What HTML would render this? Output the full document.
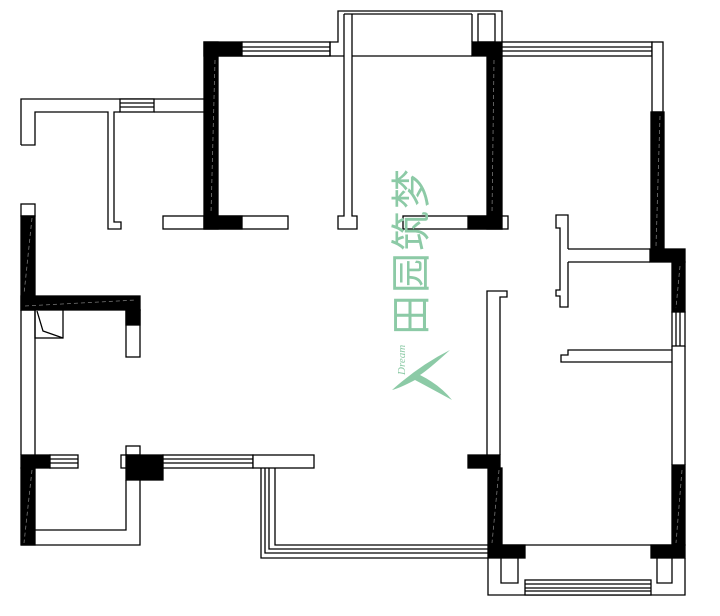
<!DOCTYPE html>
<html><head><meta charset="utf-8"><style>
html,body{margin:0;padding:0;background:#fff;width:720px;height:616px;overflow:hidden}
svg{position:absolute;left:0;top:0}
.wm{position:absolute;left:324px;top:222px;transform:rotate(-90deg);transform-origin:center;font-family:"Liberation Sans","Noto Sans CJK SC",sans-serif;font-size:40px;color:#8ccaa6;letter-spacing:2px;white-space:nowrap}
</style></head><body>
<svg width="720" height="616" viewBox="0 0 720 616" fill="none" stroke="#000" stroke-width="1.3">
<polyline points="21,145 21,99 204,99"/>
<polyline points="21,145 35,145 35,112 108,112 108,229 121,229 121,222 114,222 114,112 120,112"/>
<rect x="120" y="99" width="34" height="13" fill="#fff"/>
<line x1="120" y1="103" x2="154" y2="103"/><line x1="120" y1="107" x2="154" y2="107"/>
<line x1="154" y1="112" x2="204" y2="112"/>
<rect x="163" y="216" width="125" height="13" fill="#fff"/>
<rect x="204" y="42" width="14" height="187" fill="#000"/>
<rect x="204" y="42" width="38" height="14" fill="#000"/>
<rect x="204" y="216" width="38" height="13" fill="#000"/>
<rect x="242" y="42" width="88" height="14" fill="#fff"/>
<line x1="242" y1="47" x2="330" y2="47"/><line x1="242" y1="51" x2="330" y2="51"/>
<polyline points="330,56 330,42 338,42 338,11 502,11 502,42"/>
<line x1="218" y1="56" x2="344" y2="56"/>
<polyline points="344,14 344,216 338,216 338,229 357,229 357,216 352,216 352,14"/>
<line x1="344" y1="14" x2="472" y2="14"/>
<line x1="352" y1="56" x2="472" y2="56"/>
<rect x="478" y="14" width="17" height="28" fill="#fff"/>
<line x1="472" y1="14" x2="472" y2="42"/>
<rect x="472" y="42" width="30" height="14" fill="#000"/>
<rect x="487" y="56" width="15" height="173" fill="#000"/>
<rect x="403" y="216" width="105" height="13" fill="#fff"/>
<rect x="468" y="216" width="34" height="13" fill="#000"/>
<rect x="502" y="42" width="150" height="14" fill="#fff"/>
<line x1="502" y1="47" x2="652" y2="47"/><line x1="502" y1="51" x2="652" y2="51"/>
<rect x="652" y="42" width="11" height="70" fill="#fff"/>
<rect x="651" y="112" width="13" height="138" fill="#000"/>
<rect x="650" y="249" width="35" height="13" fill="#000"/>
<rect x="672" y="262" width="13" height="50" fill="#000"/>
<rect x="672" y="312" width="13" height="34" fill="#fff"/>
<line x1="676" y1="312" x2="676" y2="346"/><line x1="680" y1="312" x2="680" y2="346"/>
<polyline points="672,346 672,465"/><polyline points="685,346 685,465"/>
<rect x="672" y="465" width="13" height="80" fill="#000"/>
<polyline points="568,249 650,249"/><polyline points="568,262 650,262"/>
<polyline points="568,249 568,215 556,215 556,228 560,228 560,290 556,290 556,296 560,296 560,307 568,307 568,262"/>
<polyline points="672,350 568,350 568,355 561,355 561,362 672,362"/>
<polyline points="487,455 487,291 507,291 507,297 500,297 500,455"/>
<rect x="468" y="455" width="32" height="13" fill="#000"/>
<rect x="488" y="468" width="14" height="77" fill="#000"/>
<rect x="488" y="545" width="37" height="13" fill="#000"/>
<rect x="651" y="545" width="34" height="13" fill="#000"/>
<line x1="502" y1="545" x2="672" y2="545"/>
<polyline points="488,558 488,595 685,595 685,558"/>
<polyline points="501,558 501,583 518,583 518,558"/>
<polyline points="657,558 657,583 672,583 672,558"/>
<rect x="525" y="580" width="126" height="15" fill="#fff"/>
<line x1="525" y1="584" x2="651" y2="584"/><line x1="525" y1="588" x2="651" y2="588"/><line x1="525" y1="591" x2="651" y2="591"/>
<polyline points="261,468 261,558 488,558"/>
<polyline points="265,468 265,553 488,553"/>
<polyline points="269,468 269,549 488,549"/>
<polyline points="275,468 275,545 488,545"/>
<rect x="21" y="204" width="14" height="12" fill="#fff"/>
<rect x="21" y="216" width="14" height="94" fill="#000"/>
<rect x="21" y="296" width="119" height="14" fill="#000"/>
<rect x="126" y="310" width="14" height="47" fill="#fff"/>
<rect x="126" y="310" width="14" height="15" fill="#000"/>
<rect x="35" y="310" width="28" height="28" fill="#fff"/>
<polyline points="37,311 43,331 63,338"/>
<line x1="21" y1="310" x2="21" y2="455"/><line x1="35" y1="310" x2="35" y2="455"/>
<rect x="21" y="455" width="29" height="13" fill="#000"/>
<rect x="50" y="455" width="28" height="13" fill="#fff"/>
<line x1="50" y1="459" x2="78" y2="459"/><line x1="50" y1="463" x2="78" y2="463"/>
<rect x="21" y="468" width="14" height="77" fill="#000"/>
<polyline points="35,530 126,530 126,480"/>
<polyline points="21,545 140,545 140,480"/>
<rect x="126" y="446" width="14" height="9" fill="#fff"/>
<rect x="121" y="455" width="6" height="13" fill="#fff"/>
<rect x="126" y="455" width="37" height="25" fill="#000"/>
<rect x="163" y="455" width="90" height="13" fill="#fff"/>
<line x1="163" y1="459" x2="253" y2="459"/><line x1="163" y1="463" x2="253" y2="463"/>
<rect x="253" y="455" width="61" height="13" fill="#fff"/>
<g stroke="#777" stroke-width="0.8" stroke-dasharray="4,3">
<line x1="215" y1="60" x2="211" y2="214"/><line x1="494" y1="60" x2="492" y2="214"/>
<line x1="660" y1="116" x2="656" y2="246"/><line x1="680" y1="266" x2="676" y2="308"/>
<line x1="32" y1="218" x2="24" y2="294"/><line x1="32" y1="470" x2="24" y2="543"/>
<line x1="25" y1="306" x2="136" y2="300"/><line x1="499" y1="470" x2="492" y2="543"/>
<line x1="682" y1="470" x2="676" y2="543"/>
</g>
</svg>
<div class="wm">田园筑梦</div>
<svg width="720" height="616" style="pointer-events:none">
<path d="M392 390 Q420 365 450 350 Q428 370 420 375 Q440 385 452 400 Q430 388 415 380 Q400 388 392 390Z" fill="#8ccaa6"/>
<text x="405" y="375" transform="rotate(-90 405 375)" font-family="Liberation Serif,serif" font-style="italic" font-size="11" fill="#8ccaa6">Dream</text>
</svg>
</body></html>
